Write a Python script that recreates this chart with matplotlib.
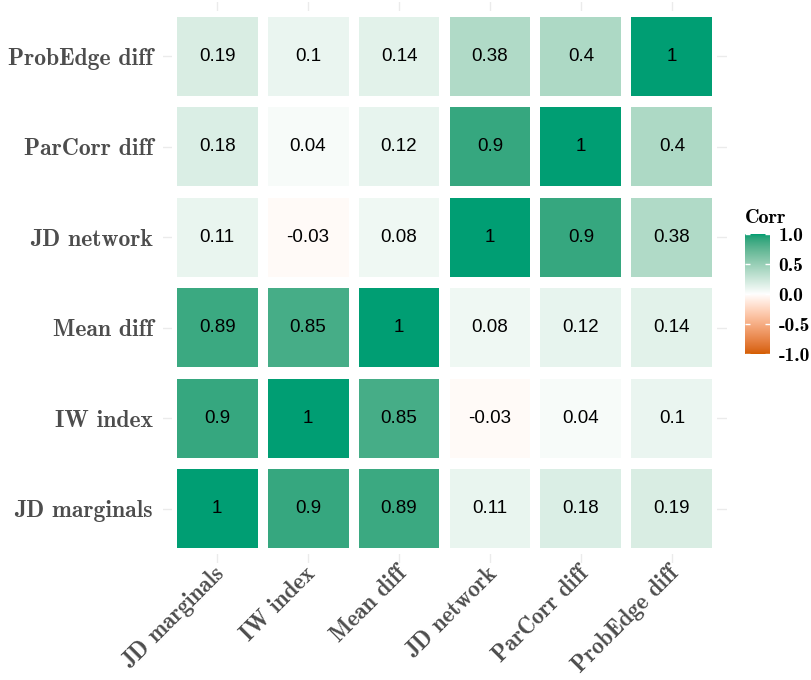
import numpy as np
import matplotlib.pyplot as plt
import matplotlib.colors as mcolors
from matplotlib.patches import Rectangle
from matplotlib.transforms import ScaledTranslation

plt.rcParams['axes.unicode_minus'] = False

# data
labels = ['JD marginals', 'IW index', 'Mean diff', 'JD network', 'ParCorr diff', 'ProbEdge diff']
corr = np.array([
    [1.00, 0.90, 0.89, 0.11, 0.18, 0.19],
    [0.90, 1.00, 0.85, -0.03, 0.04, 0.10],
    [0.89, 0.85, 1.00, 0.08, 0.12, 0.14],
    [0.11, -0.03, 0.08, 1.00, 0.90, 0.38],
    [0.18, 0.04, 0.12, 0.90, 1.00, 0.40],
    [0.19, 0.10, 0.14, 0.38, 0.40, 1.00],
])
cbar_ticks = [-1.0, -0.5, 0.0, 0.5, 1.0]
low_col, mid_col, high_col = '#D55E00', '#FFFFFF', '#009E73'


# gradient interpolated in Lab space like ggplot's scale_fill_gradient2
def to_lab(hexc):
    rgb = np.array(mcolors.to_rgb(hexc))
    lin = np.where(rgb <= 0.04045, rgb / 12.92, ((rgb + 0.055) / 1.055) ** 2.4)
    M = np.array([[0.4124, 0.3576, 0.1805], [0.2126, 0.7152, 0.0722], [0.0193, 0.1192, 0.9505]])
    xyz = M @ lin / np.array([0.95047, 1.0, 1.08883])
    f = np.where(xyz > 0.008856, np.cbrt(xyz), 7.787 * xyz + 16 / 116)
    return np.array([116 * f[1] - 16, 500 * (f[0] - f[1]), 200 * (f[1] - f[2])])


def from_lab(lab):
    fy = (lab[0] + 16) / 116
    fx = fy + lab[1] / 500
    fz = fy - lab[2] / 200
    f = np.array([fx, fy, fz])
    xyz = np.where(f ** 3 > 0.008856, f ** 3, (f - 16 / 116) / 7.787) * np.array([0.95047, 1.0, 1.08883])
    Minv = np.array([[3.2406, -1.5372, -0.4986], [-0.9689, 1.8758, 0.0415], [0.0557, -0.2040, 1.0570]])
    lin = Minv @ xyz
    rgb = np.where(lin <= 0.0031308, 12.92 * lin, 1.055 * np.clip(lin, 0, None) ** (1 / 2.4) - 0.055)
    return np.clip(rgb, 0, 1)


lo, mi, hi = to_lab(low_col), to_lab(mid_col), to_lab(high_col)
steps = np.linspace(-1, 1, 257)
cols = [from_lab(mi + (lo - mi) * (-s)) if s < 0 else from_lab(mi + (hi - mi) * s) for s in steps]
cmap = mcolors.ListedColormap(cols)
norm = mcolors.Normalize(-1, 1)

fig = plt.figure(figsize=(8.11, 6.8), dpi=100)
ax = fig.add_axes([162.5 / 811, (680 - 563) / 680, 564 / 811, 561 / 680])

n = len(labels)
# white outline block hides the grid between tiles
ax.add_patch(Rectangle((-0.5, -0.5), n, n, facecolor='white', edgecolor='none', zorder=1))
for i in range(n):
    for j in range(n):
        v = corr[i, j]
        ax.add_patch(Rectangle((j - 0.445, i - 0.437), 0.89, 0.874,
                               facecolor=cmap(norm(v)), edgecolor='none', zorder=2))
        ax.text(j, i, f'{v:g}', ha='center', va='center', fontsize=13.5,
                family='Liberation Sans', color='black', zorder=3)

ax.set_xlim(-0.6, n - 0.4)
ax.set_ylim(-0.6, n - 0.4)
ax.set_xticks(range(n))
ax.set_yticks(range(n))
ax.set_xticklabels(labels, rotation=45, ha='right', va='top', rotation_mode='anchor',
                   family='cmb10', fontsize=16.5, color='#4D4D4D')
ax.set_yticklabels(labels, family='cmb10', fontsize=17, color='#4D4D4D')
ax.tick_params(axis='y', length=0, pad=7)
ax.tick_params(axis='x', length=0, pad=1)
shift = ScaledTranslation(-4 / 100, 2 / 100, fig.dpi_scale_trans)
for lab in ax.get_xticklabels():
    lab.set_transform(lab.get_transform() + shift)
ax.grid(True, color='#EBEBEB', linewidth=1.0, zorder=0)
ax.set_axisbelow(True)
for s in ax.spines.values():
    s.set_visible(False)

# colorbar
cax = fig.add_axes([745 / 811, (680 - 354) / 680, 25 / 811, 120 / 680])
grad = np.linspace(-1, 1, 256).reshape(-1, 1)
cax.imshow(grad, cmap=cmap, norm=norm, aspect='auto', origin='lower', extent=[0, 1, -1, 1])
for t in cbar_ticks:
    cax.plot([0, 0.2], [t, t], color='white', lw=1, solid_capstyle='butt')
    cax.plot([0.8, 1], [t, t], color='white', lw=1, solid_capstyle='butt')
cax.set_xlim(0, 1)
cax.set_ylim(-1, 1)
cax.set_xticks([])
cax.yaxis.tick_right()
cax.set_yticks(cbar_ticks)
cax.set_yticklabels([f'{t:.1f}' for t in cbar_ticks], family='cmb10', fontsize=14, color='black')
cax.tick_params(length=0, pad=6)
for s in cax.spines.values():
    s.set_visible(False)
cax.set_title('Corr', family='cmb10', fontsize=14.5, loc='left', pad=8)

fig.savefig('out.png', dpi=100)
